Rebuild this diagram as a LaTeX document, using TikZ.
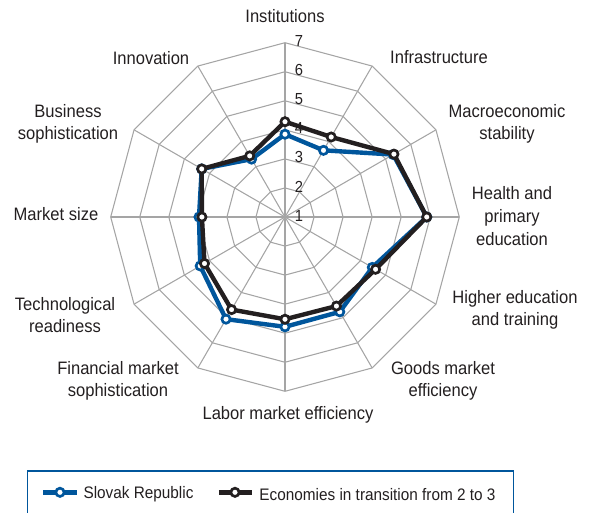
\documentclass[tikz,border=0pt]{standalone}
\usepackage{fontspec}
\setmainfont{Liberation Sans}[FakeStretch=0.92]
\usetikzlibrary{positioning}
\definecolor{slovakblue}{RGB}{0,86,156}
\definecolor{inkblack}{RGB}{35,31,32}
\definecolor{gridgray}{RGB}{165,165,165}
\tikzset{
  gridline/.style={draw=gridgray, line width=0.8pt},
  axislabel/.style={font=\fontsize{13.5}{17}\selectfont, align=center, text=inkblack, inner sep=0pt},
  ringlabel/.style={font=\fontsize{12}{14}\selectfont, text=inkblack, inner sep=0pt},
  series/.style={line width=3.3pt, line join=miter},
  ptmark/.style={circle, draw=#1, fill=white, line width=2pt, inner sep=0pt, minimum size=6.2pt},
  legendbox/.style={draw=slovakblue, line width=1.1pt},
  legendtext/.style={font=\fontsize{12.5}{15}\selectfont, text=inkblack, inner sep=0pt, anchor=west}
}
\begin{document}
\begin{tikzpicture}[x=0.75pt, y=0.75pt]
\useasboundingbox (-285,-295) rectangle (304,217);
\coordinate (c) at (0,0);

% grid
\foreach \r in {2,...,7}
  \draw[gridline] (90:{29.05*(\r-1)}) \foreach \k in {1,...,11}{ -- ({90-30*\k}:{29.05*(\r-1)})} -- cycle;
\foreach \k in {0,...,11}{
  \coordinate (tip\k) at ({90-30*\k}:174.3);
  \draw[gridline] (c) -- (tip\k);
}
\foreach \r in {1,...,7}
  \node[ringlabel] (lv\r) at (14,{29.05*(\r-1)+1.5}) {\r};

% axis labels
\node[axislabel] (institutions) at (0,201) {Institutions};
\node[axislabel] (infrastructure) at (154,160) {Infrastructure};
\node[axislabel] (macro) at (222,93) {Macroeconomic\\stability};
\node[axislabel] (health) at (227,1) {Health and\\primary\\education};
\node[axislabel] (higher) at (230,-93) {Higher education\\and training};
\node[axislabel] (goods) at (158,-164) {Goods market\\efficiency};
\node[axislabel] (labor) at (3,-198) {Labor market efficiency};
\node[axislabel] (financial) at (-167,-164) {Financial market\\sophistication};
\node[axislabel] (techready) at (-220,-98) {Technological\\readiness};
\node[axislabel] (marketsize) at (-229,3) {Market size};
\node[axislabel] (business) at (-217,93) {Business\\sophistication};
\node[axislabel] (innovation) at (-134,159) {Innovation};

% Slovak Republic
\foreach \v [count=\k from 0] in {3.85,3.65,5.30,5.88,4.47,4.77,4.78,5.06,4.37,3.96,4.31,3.30}
  \coordinate (s\k) at ({90-30*\k}:{29.05*(\v-1)});
\draw[series, slovakblue] (s0) \foreach \k in {1,...,11}{ -- (s\k)} -- cycle;
\foreach \k in {0,...,11}
  \node[ptmark=slovakblue] (sm\k) at (s\k) {};

% economies in transition from 2 to 3
\foreach \v [count=\k from 0] in {4.28,4.18,5.33,5.88,4.60,4.54,4.52,4.68,4.20,3.86,4.31,3.43}
  \coordinate (e\k) at ({90-30*\k}:{29.05*(\v-1)});
\draw[series, inkblack] (e0) \foreach \k in {1,...,11}{ -- (e\k)} -- cycle;
\foreach \k in {0,...,11}
  \node[ptmark=inkblack] (em\k) at (e\k) {};

% legend
\draw[legendbox] (-257.7,-300) rectangle (228.3,-254);
\coordinate (lgsa) at (-241.7,-275.3);
\coordinate (lgsb) at (-207.7,-275.3);
\draw[series, slovakblue] (lgsa) -- (lgsb);
\node[ptmark=slovakblue] (lgs) at (-225,-275.3) {};
\node[legendtext, right=6 of lgsb, yshift=-1.5] (lgstext) {Slovak Republic};
\coordinate (lgea) at (-66,-275.3);
\coordinate (lgeb) at (-33.3,-275.3);
\draw[series, inkblack] (lgea) -- (lgeb);
\node[ptmark=inkblack] (lge) at (-50,-275.3) {};
\node[legendtext, right=7.5 of lgeb, yshift=-1.5] (lgetext) {Economies in transition from 2 to 3};
\end{tikzpicture}
\end{document}
